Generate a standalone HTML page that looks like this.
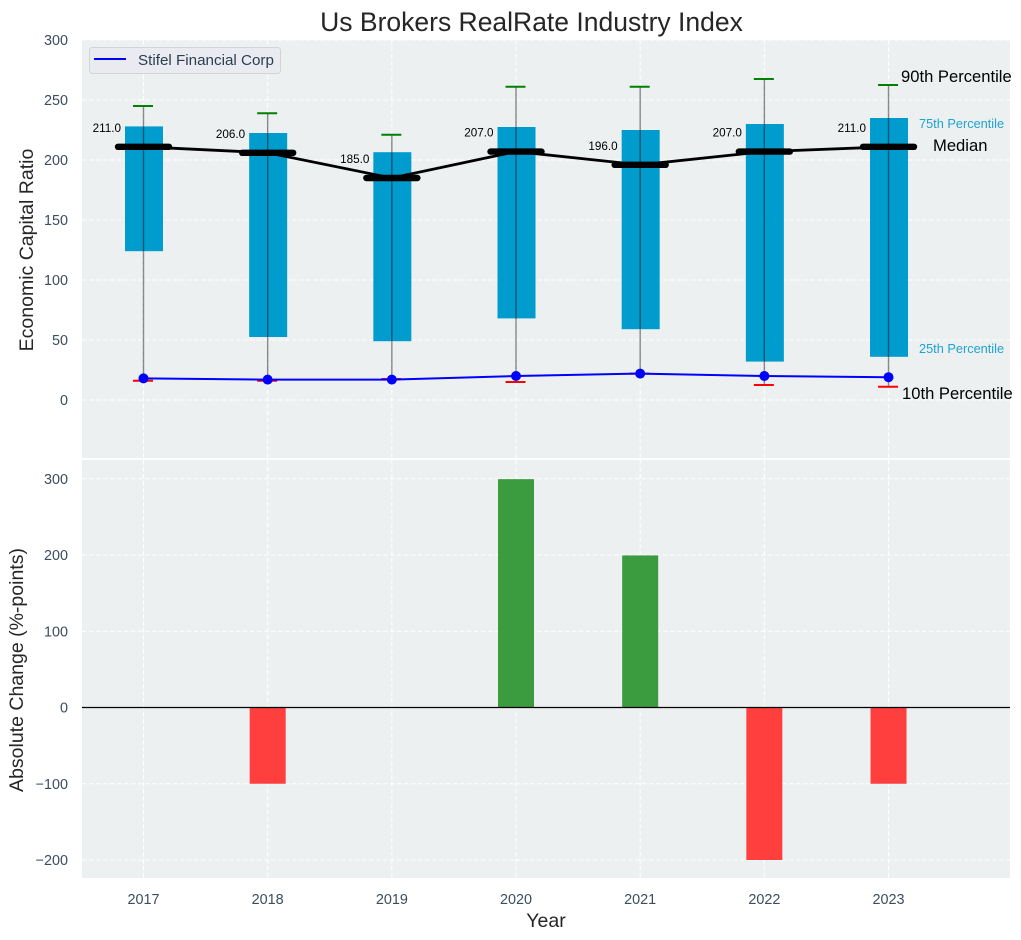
<!DOCTYPE html>
<html lang="en">
<head>
<meta charset="utf-8">
<title>Us Brokers RealRate Industry Index</title>
<style>
html,body{margin:0;padding:0;background:#fff;}
#chart{display:block;width:1021px;height:940px;font-family:"Liberation Sans",Arial,sans-serif;}
</style>
</head>
<body>
<svg id="chart" xmlns="http://www.w3.org/2000/svg" width="1021" height="940" viewBox="0 0 1021 940">
  <rect x="0" y="0" width="1021" height="940" fill="#ffffff"/>
  <rect x="82" y="40" width="928" height="418" fill="#ecf0f1"/>
  <rect x="82" y="460" width="928" height="418" fill="#ecf0f1"/>
  <g id="grid"></g>
  <g id="bars"></g>
  <g id="boxes"></g>
  <g id="marks"></g>
  <g id="labels"></g>
  <text x="531.5" y="31" font-size="26.5" text-anchor="middle" fill="#262626">Us Brokers RealRate Industry Index</text>
  <text transform="translate(33,250) rotate(-90)" font-size="19.5" text-anchor="middle" fill="#262626">Economic Capital Ratio</text>
  <text transform="translate(23,670) rotate(-90)" font-size="19.5" text-anchor="middle" fill="#262626">Absolute Change (%-points)</text>
  <text x="546" y="927" font-size="19.5" text-anchor="middle" fill="#262626">Year</text>
  <text x="901" y="82" font-size="16.6" fill="#000000">90th Percentile</text>
  <text x="919" y="128" font-size="12.75" fill="#1fa3d1">75th Percentile</text>
  <text x="933" y="151" font-size="16.6" fill="#000000">Median</text>
  <text x="919" y="353" font-size="12.75" fill="#1fa3d1">25th Percentile</text>
  <text x="902" y="399" font-size="16.6" fill="#000000">10th Percentile</text>
  <g>
    <rect x="89.5" y="47.5" width="191" height="26" rx="3" fill="#e9ebf0" stroke="#d2d4d6" stroke-width="1"/>
    <line x1="94" y1="59" x2="126" y2="59" stroke="#0000ff" stroke-width="2"/>
    <text x="138" y="65" font-size="15.2" fill="#2c3e50">Stifel Financial Corp</text>
  </g>
</svg>
<script>
var years = [2017, 2018, 2019, 2020, 2021, 2022, 2023];
var p90 = [245, 239, 221, 261, 261, 267.5, 262.5];
var p75 = [228, 222.5, 206.5, 227.5, 225, 230, 235];
var median = [211, 206, 185, 207, 196, 207, 211];
var p25 = [124, 52.5, 49, 68, 59, 32, 36];
var p10 = [16, 16, 17.5, 15, 22, 12.5, 11];
var company = [18, 17, 17, 20, 22, 20, 19];
var change = [0, -100, 0, 300, 200, -200, -100];
var topTicks = [0, 50, 100, 150, 200, 250, 300];
var bottomTicks = [-200, -100, 0, 100, 200, 300];

function x(v) { return 143.5 + (v - 2017) * 124.17; }
function yTop(v) { return 400 - v * 1.2; }
function yBot(v) { return 707.5 - v * 0.7625; }

var NS = 'http://www.w3.org/2000/svg';
function make(parent, tag, attrs, text) {
  var el = document.createElementNS(NS, tag);
  for (var k in attrs) { el.setAttribute(k, attrs[k]); }
  if (text !== undefined) { el.textContent = text; }
  parent.appendChild(el);
  return el;
}
var grid = document.getElementById('grid');
var bars = document.getElementById('bars');
var boxes = document.getElementById('boxes');
var marks = document.getElementById('marks');
var labels = document.getElementById('labels');
var el;
var dash = { stroke: '#ffffff', 'stroke-width': 1.1, 'stroke-dasharray': '4.5 2.5', fill: 'none' };
function gridLine(a, b, c, d) {
  var o = { x1: a, y1: b, x2: c, y2: d };
  for (var k in dash) { o[k] = dash[k]; }
  return make(grid, 'line', o);
}

topTicks.forEach(function (t) {
  el = gridLine(82, yTop(t), 1010, yTop(t));
  
  
  el = make(labels, 'text', { x: 68, y: yTop(t) + 5, 'font-size': 14.4, 'text-anchor': 'end', fill: '#3c4d5f' }, String(t));
  
  
});
bottomTicks.forEach(function (t) {
  el = gridLine(82, yBot(t), 1010, yBot(t));
  
  
  el = make(labels, 'text', { x: 68, y: yBot(t) + 5, 'font-size': 14.4, 'text-anchor': 'end', fill: '#3c4d5f' }, String(t).replace('-', '\u2212'));
  
  
});
years.forEach(function (yr, i) {
  var cx = x(yr);
  el = gridLine(cx, 40, cx, 458);
  
  
  el = gridLine(cx, 460, cx, 878);
  
  
  el = make(labels, 'text', { x: cx, y: 904, 'font-size': 14.4, 'text-anchor': 'middle', fill: '#3c4d5f' }, String(yr));
  
  

  var v = change[i];
  el = make(bars, 'rect', {
    x: cx - 18, y: Math.min(yBot(v), yBot(0)) + 0.4, width: 36,
    height: Math.max(Math.abs(yBot(v) - yBot(0)) - 0.4, 0),
    fill: v >= 0 ? '#3b9b3f' : '#ff3e3e'
  });
  
  

  el = make(boxes, 'rect', {
    x: cx - 18.5, y: yTop(p75[i]), width: 38,
    height: yTop(p25[i]) - yTop(p75[i]), fill: '#009ccd'
  });
  
  

  el = make(marks, 'line', { x1: cx, y1: yTop(p90[i]), x2: cx, y2: yTop(p10[i]), stroke: '#000000', 'stroke-opacity': 0.45, 'stroke-width': 1.4 });
  
  

  el = make(marks, 'line', { x1: cx - 10.5, y1: yTop(p90[i]), x2: cx + 9.5, y2: yTop(p90[i]), stroke: '#008000', 'stroke-width': 2 });
  
  

  el = make(marks, 'line', { x1: cx - 10.5, y1: yTop(p10[i]), x2: cx + 9.5, y2: yTop(p10[i]), stroke: '#ff0000', 'stroke-width': 2 });
  
  
});

function poly(values, scale) {
  return values.map(function (v, i) { return x(years[i]).toFixed(2) + ',' + scale(v).toFixed(2); }).join(' ');
}
el = make(marks, 'polyline', { points: poly(median, yTop), fill: 'none', stroke: '#000000', 'stroke-width': 2.8 });



years.forEach(function (yr, i) {
  var cx = x(yr), cy = yTop(median[i]);
  el = make(marks, 'line', { x1: cx - 25.5, y1: cy, x2: cx + 25.5, y2: cy, stroke: '#000000', 'stroke-width': 6.4, 'stroke-linecap': 'round' });
  
  
  el = make(labels, 'text', { x: cx - 22.5, y: cy - 15, 'font-size': 11.7, 'text-anchor': 'end', fill: '#000000' }, median[i].toFixed(1));
  
  
});

el = make(marks, 'polyline', { points: poly(company, yTop), fill: 'none', stroke: '#0000ff', 'stroke-width': 2 });


years.forEach(function (yr, i) {
  el = make(marks, 'circle', { cx: x(yr), cy: yTop(company[i]), r: 5, fill: '#0000ff' });
  
  
});

el = make(bars, 'line', { x1: 82, y1: yBot(0), x2: 1010, y2: yBot(0), stroke: '#000000', 'stroke-width': 1.3 });


</script>
</body>
</html>
